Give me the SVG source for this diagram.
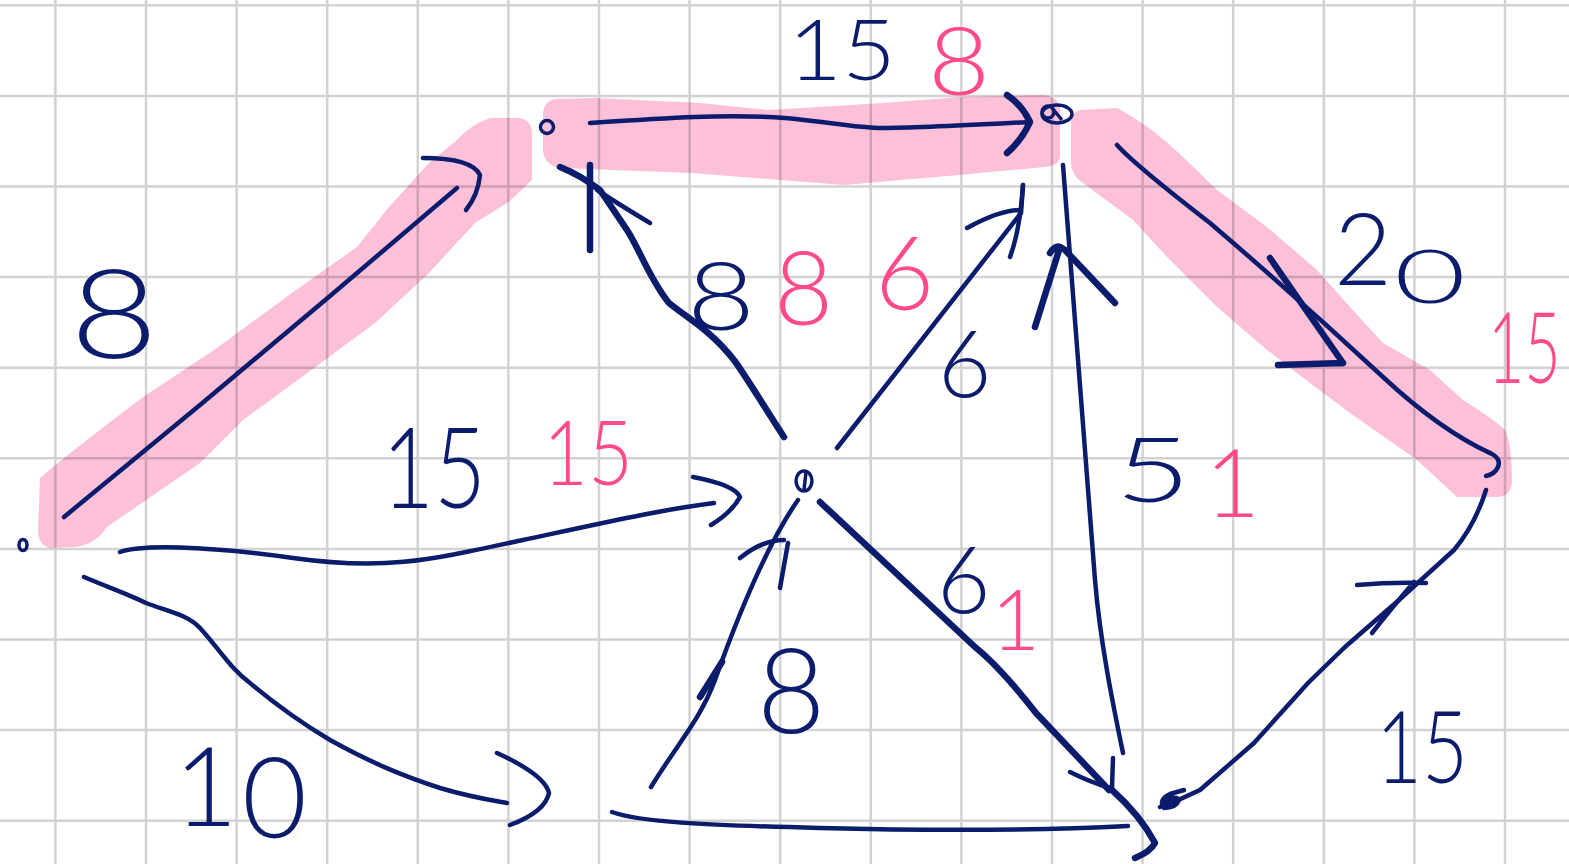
<svg xmlns="http://www.w3.org/2000/svg" width="1569" height="864" viewBox="0 0 1569 864">
<style>
.grid line{stroke:#d2d2d2;stroke-width:2.5}
.hl{fill:#fdc0d9;mix-blend-mode:multiply}
.ln{fill:none;stroke:#0c1c6c;stroke-width:4.5;stroke-linecap:round;stroke-linejoin:round}
.th{stroke-width:6.5}
.nd{fill:none;stroke:#0c1c6c;stroke-width:3.5}
.t{font-family:Lato,"Open Sans","Liberation Sans",sans-serif;font-weight:300;fill:#0c1c6c}
.p{font-family:Lato,"Open Sans","Liberation Sans",sans-serif;font-weight:300;fill:#ff4a8c}
</style>
<rect width="1569" height="864" fill="#ffffff"/>
<g class="grid">
<line x1="55.4" y1="0" x2="55.4" y2="864"/><line x1="146" y1="0" x2="146" y2="864"/><line x1="236.6" y1="0" x2="236.6" y2="864"/><line x1="327.2" y1="0" x2="327.2" y2="864"/><line x1="417.8" y1="0" x2="417.8" y2="864"/><line x1="508.4" y1="0" x2="508.4" y2="864"/><line x1="599" y1="0" x2="599" y2="864"/><line x1="689.6" y1="0" x2="689.6" y2="864"/><line x1="780.2" y1="0" x2="780.2" y2="864"/><line x1="870.8" y1="0" x2="870.8" y2="864"/><line x1="961.4" y1="0" x2="961.4" y2="864"/><line x1="1052" y1="0" x2="1052" y2="864"/><line x1="1142.6" y1="0" x2="1142.6" y2="864"/><line x1="1233.2" y1="0" x2="1233.2" y2="864"/><line x1="1323.8" y1="0" x2="1323.8" y2="864"/><line x1="1414.4" y1="0" x2="1414.4" y2="864"/><line x1="1505" y1="0" x2="1505" y2="864"/>
<line x1="0" y1="5.3" x2="1569" y2="5.3"/><line x1="0" y1="95.9" x2="1569" y2="95.9"/><line x1="0" y1="186.5" x2="1569" y2="186.5"/><line x1="0" y1="277.1" x2="1569" y2="277.1"/><line x1="0" y1="367.7" x2="1569" y2="367.7"/><line x1="0" y1="458.3" x2="1569" y2="458.3"/><line x1="0" y1="548.9" x2="1569" y2="548.9"/><line x1="0" y1="639.5" x2="1569" y2="639.5"/><line x1="0" y1="730.1" x2="1569" y2="730.1"/><line x1="0" y1="820.7" x2="1569" y2="820.7"/>
</g>
<g id="highlight">
<path class="hl" d="M40,478 Q60,460 143,397 L214,350 L296,290 L357,247 L389,207 L429,163 L457,140 Q470,125 490,118 L520,118 Q532,120 532,135 L532,180 Q520,192 507,203 L475,223 L429,273 L375,323 L321,363 L243,420 L200,463 L107,527 Q95,545 75,547 L50,548 Q38,545 38,530 Z"/>
<path class="hl" d="M556,99 L596,98 L700,103 L768,110 L883,103 L959,97 L1045,95 Q1060,98 1060,110 L1060,158 Q1058,166 1045,167 L959,175 L844,185 L691,173 L560,168 Q544,165 543,150 L543,112 Q545,100 556,99 Z"/>
<path class="hl" d="M1080,110 L1117,108 Q1150,125 1183,157 L1217,190 L1267,227 L1317,270 L1350,307 L1383,343 L1430,370 L1463,400 Q1495,420 1505,430 Q1512,445 1512,483 Q1510,497 1497,497 L1457,497 L1417,460 L1350,413 L1310,383 L1267,350 L1217,307 L1167,257 L1133,220 L1083,183 Q1070,175 1071,160 L1071,122 Q1072,112 1080,110 Z"/>
</g>
<g id="connectors">
<g id="e-A-B"><path class="ln" d="M64,517 L200,405 L330,296 L457,188"/><path class="ln" d="M423,158 Q472,158 480,175 Q478,195 466,210"/></g>
<g id="e-B-C"><path class="ln" d="M590,123 C680,117 720,115 768,117 S850,128 883,128 S990,124 1030,122"/><path class="ln th" d="M1007,95 Q1022,105 1030,122 Q1022,140 1007,153"/></g>
<g id="e-C-E"><path class="ln" d="M1117,145 Q1135,165 1210,223 Q1300,300 1383,377 Q1440,430 1490,453"/><path class="ln th" d="M1270,258 L1297,297 L1343,363 M1278,365 L1343,363"/></g>
<g id="e-A-D"><path class="ln" d="M120,552 C140,545 200,545 293,558 S430,560 523,540 S660,510 714,503"/><path class="ln" d="M693,477 Q735,485 740,497 Q732,512 711,525"/></g>
<g id="e-A-X"><path class="ln" d="M84,577 C110,588 130,595 146,603 C170,612 188,615 200,628 C220,650 230,668 250,683 C280,708 300,722 330,740 C370,762 400,775 440,788 C470,797 490,800 507,803"/><path class="ln" d="M497,753 Q545,775 549,793 Q545,812 510,825"/></g>
<g id="e-X-D"><path class="ln" d="M651,787 C680,740 700,720 715,680 C740,610 770,540 798,500"/><path class="ln th" d="M700,697 L722,662"/><path class="ln" d="M740,558 Q762,540 784,540 M788,543 L780,588"/></g>
<g id="e-X-F"><path class="ln" d="M612,812 C640,822 700,825 820,828 S1050,830 1128,826"/><path class="ln th" d="M1112,790 Q1140,815 1155,843 Q1150,852 1135,858"/></g>
<g id="e-D-F"><path class="ln th" d="M820,502 L975,647 Q1000,667 1036,713 L1109,790"/><path class="ln" d="M1070,772 Q1090,782 1110,788 M1113,758 L1112,788"/></g>
<g id="e-F-C"><path class="ln" d="M1123,753 C1112,700 1100,640 1095,580 L1063,165"/><path class="ln th" d="M1035,327 L1060,247 M1050,253 Q1056,244 1062,248 M1065,250 L1115,303"/></g>
<g id="e-D-B"><path class="ln th" d="M784,437 C760,400 745,375 734,360 C710,330 690,320 669,303 C650,280 640,250 627,230 L600,190 Q580,175 560,167"/><path class="ln th" d="M590,165 L590,250"/><path class="ln" d="M597,190 Q620,205 650,223"/></g>
<g id="e-D-C"><path class="ln" d="M837,448 L1021,213 L1023,185"/><path class="ln" d="M967,228 Q1000,210 1020,210 M1023,185 Q1020,230 1010,257"/></g>
<g id="e-F-E"><path class="ln" d="M1160,807 Q1180,800 1200,790 L1254,743 L1308,683 L1345,647 L1399,600 L1454,550 Q1475,525 1486,490"/><path class="ln" d="M1357,585 Q1390,582 1426,583 M1372,633 Q1390,610 1414,582"/></g>
</g>
<g id="labels">
<text class="t" x="70" y="358" font-size="125" textLength="88" lengthAdjust="spacingAndGlyphs">8</text>
<text class="t" x="788" y="80" font-size="84" textLength="108" lengthAdjust="spacingAndGlyphs">15</text>
<text class="p" x="928" y="95" font-size="94" textLength="62" lengthAdjust="spacingAndGlyphs">8</text>
<text class="t" font-size="100"><tspan x="1334" y="285">2</tspan><tspan x="1394" y="303" font-size="74" textLength="72" lengthAdjust="spacingAndGlyphs">0</tspan></text>
<text class="p" transform="translate(1488,383) scale(0.64,1)" x="0" y="0" font-size="98">15</text>
<text class="t" x="382" y="508" font-size="112" textLength="104" lengthAdjust="spacingAndGlyphs">15</text>
<text class="p" x="543" y="485" font-size="90" textLength="90" lengthAdjust="spacingAndGlyphs">15</text>
<text class="t" x="687" y="330" font-size="95" textLength="68" lengthAdjust="spacingAndGlyphs">8</text>
<text class="p" x="774" y="325" font-size="102">8</text>
<text class="p" x="875" y="310" font-size="102">6</text>
<text class="t" x="938" y="397" font-size="92">6</text>
<text class="t" x="1115" y="502" font-size="90" textLength="76" lengthAdjust="spacingAndGlyphs">5</text>
<text class="p" x="1205" y="517" font-size="95">1</text>
<text class="t" x="937" y="613" font-size="92">6</text>
<text class="p" x="991" y="650" font-size="85">1</text>
<text class="t" x="757" y="733" font-size="118">8</text>
<text class="t" font-size="110"><tspan x="174" y="826">1</tspan><tspan x="242" y="838" font-size="112">0</tspan></text>
<text class="t" x="1376" y="783" font-size="100" textLength="92" lengthAdjust="spacingAndGlyphs">15</text>
</g>
<g id="node-A"><ellipse class="nd" cx="23" cy="545" rx="4" ry="5.5"/></g>
<g id="node-B"><circle class="nd" cx="547" cy="127" r="6.5" stroke-width="4"/></g>
<g id="node-C"><ellipse class="nd" cx="1057" cy="114" rx="15" ry="9" stroke-width="4"/><circle class="nd" cx="1048" cy="112" r="6"/><path class="nd" d="M1052,108 L1062,120"/></g>
<g id="node-D"><ellipse class="nd" cx="804" cy="481" rx="8" ry="10"/><path class="nd" d="M806,472 L804,490"/></g>
<g id="node-E"><path class="ln" d="M1488,452 Q1502,458 1498,467 Q1495,474 1486,476"/></g>
<g id="node-F"><path class="ln" d="M1166,801 Q1176,795 1179,800 Q1176,808 1164,808 Q1158,800 1170,794 L1184,790"/></g>
</svg>
